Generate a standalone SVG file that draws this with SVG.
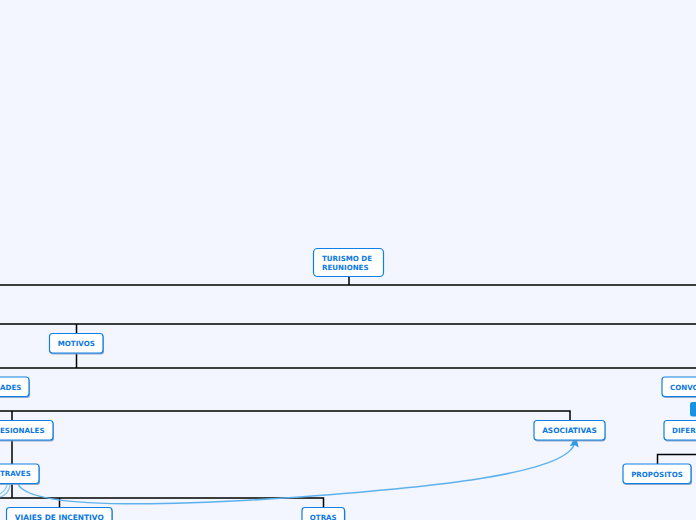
<svg xmlns="http://www.w3.org/2000/svg" width="696" height="520" viewBox="0 0 696 520">
<style>
.n{fill:#fff;stroke:#1080e6;stroke-width:1.2}
.s{fill:#7f9cc0;opacity:.85}
.t{font-family:"DejaVu Sans",Verdana,sans-serif;font-weight:700;font-size:7.1px;fill:#0b78e3}
.w{font-size:7.4px}
.c{fill:none;stroke:#000;stroke-width:1.5}
.r{fill:none;stroke:#5db2ee;stroke-width:1.6}
.q{fill:none;stroke:#8cc8f2;stroke-width:1.2}
</style>
<defs><marker id="a" markerWidth="11" markerHeight="9" refX="5" refY="4.500" orient="auto" markerUnits="userSpaceOnUse"><path d="M0 0L11 4.500L0 9L2 4.500Z" fill="#2f9be6"/></marker></defs>
<rect width="696" height="520" fill="#f3f6ff"/>
<g id="connectors">
<path class="c" d="M0 285H696M349 276V285M0 324H696M76.500 324V368M0 368H696M0 411H570V420M12 411V420M12 440V498M0 498H323.500V507M59.500 498V507M657.500 464V454.500H696"/>
<path class="r" d="M18 484C30 510 170 506 300 497C420 488 570 475 575 442" marker-end="url(#a)"/>
<path class="q" d="M7 484C7 489 3 492 0 494M10 484C10 491 5 496 0 497"/>
</g>
<g id="n1"><rect class="n" x="313.500" y="248.500" width="70" height="28" rx="4"/><text class="t" x="322" y="261">TURISMO DE</text><text class="t" x="322" y="270">REUNIONES</text></g>
<g id="n2"><rect class="s" x="50" y="335" width="54" height="19.500" rx="3"/><rect class="n" x="49.500" y="333.500" width="53.500" height="19.500" rx="3"/><text class="t" x="76.250" y="346" text-anchor="middle">MOTIVOS</text></g>
<g id="n3"><rect class="s" x="-10" y="378.500" width="40" height="19.500" rx="3"/><rect class="n" x="-10" y="377" width="39" height="19.500" rx="3"/><text class="t" x="0" y="389.500">ADES</text></g>
<g id="n4"><rect class="s" x="-10" y="422" width="64" height="19.500" rx="3"/><rect class="n" x="-10" y="420.500" width="63" height="19.500" rx="3"/><text class="t" x="0" y="433">ESIONALES</text></g>
<g id="n5"><rect class="s" x="-10" y="465.500" width="50" height="19.500" rx="3"/><rect class="n" x="-10" y="464" width="49" height="19.500" rx="3"/><text class="t" x="0" y="476">TRAVES</text></g>
<g id="n6"><rect class="s" x="7" y="509" width="106" height="19.500" rx="3"/><rect class="n" x="6.500" y="507.500" width="105.500" height="19.500" rx="3"/><text class="t w" x="59.250" y="519.500" text-anchor="middle">VIAJES DE INCENTIVO</text></g>
<g id="n7"><rect class="s" x="302.500" y="509" width="43" height="19.500" rx="3"/><rect class="n" x="302" y="507.500" width="42.500" height="19.500" rx="3"/><text class="t" x="323.250" y="519.500" text-anchor="middle">OTRAS</text></g>
<g id="n8"><rect class="s" x="534.500" y="422" width="71" height="19.500" rx="3"/><rect class="n" x="534" y="420.500" width="71" height="19.500" rx="3"/><text class="t w" x="569.500" y="433" text-anchor="middle">ASOCIATIVAS</text></g>
<g id="n9"><rect class="s" x="662.500" y="378.500" width="50" height="19.500" rx="3"/><rect class="n" x="662" y="377" width="50" height="19.500" rx="3"/><text class="t" x="670" y="389.500">CONVO</text></g>
<g id="n10"><rect x="690" y="402" width="14" height="14.500" rx="2.500" fill="#1592e6"/></g>
<g id="n11"><rect class="s" x="664.500" y="422" width="50" height="19.500" rx="3"/><rect class="n" x="664" y="420.500" width="50" height="19.500" rx="3"/><text class="t" x="672" y="433">DIFER</text></g>
<g id="n12"><rect class="s" x="623.500" y="465.500" width="68.500" height="19.500" rx="3"/><rect class="n" x="623" y="464" width="68" height="19.500" rx="3"/><text class="t" x="657" y="477" text-anchor="middle">PROPÓSITOS</text></g>
</svg>
